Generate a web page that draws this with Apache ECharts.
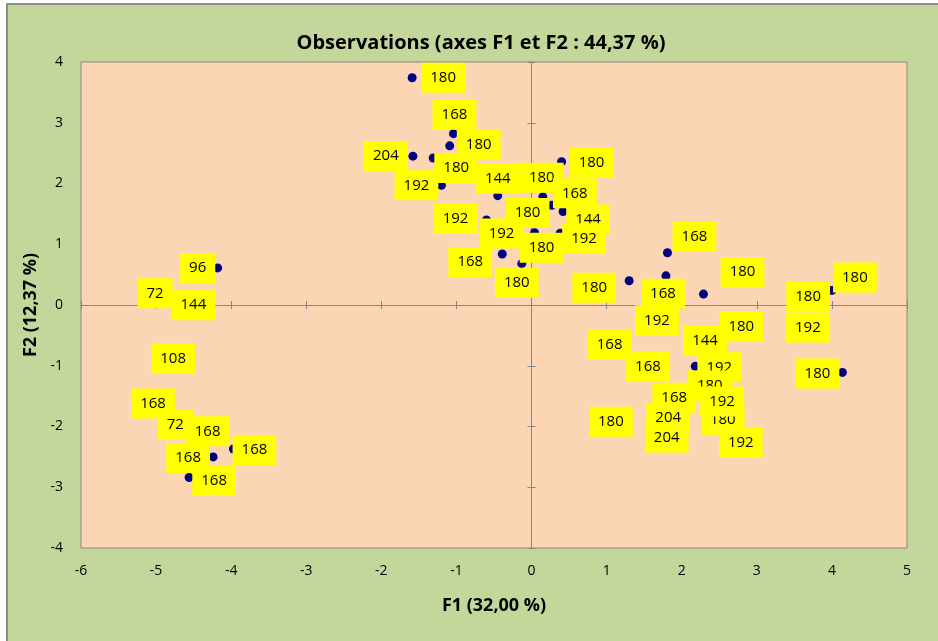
<!DOCTYPE html>
<html><head><meta charset="utf-8">
<script src="https://cdn.jsdelivr.net/npm/echarts@6/dist/echarts.min.js"></script>
<style>
html,body{margin:0;padding:0;background:#fff;overflow:hidden;width:938px;height:641px;}
#frame{position:absolute;left:6px;top:3px;width:960px;height:680px;background:#c4d79b;border:2px solid #8c8c8c;}
#chart{position:absolute;left:0;top:0;width:938px;height:641px;}
</style></head><body>
<div id="frame"></div>
<div id="chart"></div>
<script>
// ---- data ----
const f1 = [-1.59,-1.04,-1.09,-1.58,-1.31,-1.20,-0.45,0.15,0.40,0.27,0.42,0.38,-0.60,-0.24,-0.56,0.04,-0.39,-0.13,
  1.30,1.81,1.79,2.29,4.00,3.51,3.52,4.14,0.88,1.51,2.62,2.15,1.39,2.18,2.24,1.74,1.66,2.40,2.39,1.64,0.91,2.64,
  -4.18,-5.16,-4.65,-4.92,-5.20,-4.89,-4.46,-4.24,-4.56,-3.97];
const f2 = [3.74,2.82,2.62,2.45,2.42,1.97,1.80,1.78,2.36,1.64,1.54,1.18,1.40,1.48,1.16,1.19,0.84,0.68,
  0.40,0.86,0.48,0.18,0.24,0.12,-0.42,-1.11,-0.65,-0.22,-0.35,-0.62,-1.01,-1.01,-1.34,-1.51,-1.84,-1.89,-1.57,-2.18,-1.92,-2.25,
  0.61,0.16,-0.02,-0.88,-1.62,-1.97,-2.08,-2.50,-2.84,-2.37];
const obsLabels = ['180','168','180','204','180','192','144','180','180','168','144','192','192','180','192','180','168','180',
  '180','168','168','180','180','180','192','180','168','192','180','144','168','192','180','168','204','180','192','204','180','192',
  '96','72','144','108','168','72','168','168','168','168'];
const xRange = {min:-6, max:5, step:1};
const yRange = {min:-4, max:4, step:1};
const titleText = 'Observations (axes F1 et F2 : 44,37 %)';
const xName = 'F1 (32,00 %)';
const yName = 'F2 (12,37 %)';

// ---- styling: label nudges (px) from point centre to label centre ----
const LABEL_NUDGE = [[31,0],[1,-19],[29,-1],[-27,0],[23,10],[-25,0],[0,-17],[-1,-19],[30,1],[23,-12],[25,8],[24,5],[-31,-1],[14,-2],[12,-1],[7,15],[-32,8],[-5,19],
  [-35,7],[27,-16],[-3,18],[39,-22],[23,-13],[13,-1],[12,-3],[-25,1],[12,0],[12,2],[13,0],[12,-2],[12,0],[24,1],[10,-1],[12,1],[12,1],[11,0],[11,1],[12,0],[11,0],[11,1],
  [-20,0],[11,-2],[11,-1],[11,0],[12,0],[11,0],[11,0],[-25,1],[25,3],[21,1]];

const FONT = 'Open Sans';
const GRID = {left:81, top:62, width:826, height:486};
const AX = '#868686';

const chart = echarts.init(document.getElementById('chart'), null, {renderer:'canvas'});
function valAxis(extra, r){
  return Object.assign({type:'value', min:r.min, max:r.max, interval:r.step, splitLine:{show:false}}, extra);
}
const option = {
  animation:false,
  textStyle:{fontFamily:FONT},
  title:{text:titleText, left:476, top:28, textAlign:'center',
    textStyle:{fontFamily:FONT, fontSize:20, fontWeight:'bold', color:'#000'}},
  grid:[
    Object.assign({show:true, backgroundColor:'#fcd5b4', borderColor:AX, borderWidth:1}, GRID),
    Object.assign({}, GRID),
    Object.assign({}, GRID)
  ],
  xAxis:[
    valAxis({gridIndex:0, position:'bottom', axisLine:{show:false, onZero:false}, axisTick:{show:false},
      axisLabel:{color:'#000', fontSize:14, margin:16, fontFamily:FONT},
      name:xName, nameLocation:'middle', nameGap:49,
      nameTextStyle:{fontWeight:'bold', fontSize:18, color:'#000', fontFamily:FONT}}, xRange),
    valAxis({gridIndex:1, axisLine:{onZero:true, lineStyle:{color:AX, width:1}},
      axisTick:{show:true, length:4, lineStyle:{color:AX}}, axisLabel:{show:false}}, xRange),
    valAxis({gridIndex:2, axisLine:{show:false, onZero:true},
      axisTick:{show:true, inside:true, length:4, lineStyle:{color:AX}}, axisLabel:{show:false}}, xRange)
  ],
  yAxis:[
    valAxis({gridIndex:0, position:'left', axisLine:{show:false, onZero:false}, axisTick:{show:false},
      axisLabel:{color:'#000', fontSize:14, margin:18, fontFamily:FONT},
      name:yName, nameLocation:'middle', nameGap:40, nameRotate:90,
      nameTextStyle:{fontWeight:'bold', fontSize:18, color:'#000', fontFamily:FONT}}, yRange),
    valAxis({gridIndex:1, axisLine:{onZero:true, lineStyle:{color:AX, width:1}},
      axisTick:{show:true, length:4, lineStyle:{color:AX}}, axisLabel:{show:false}}, yRange),
    valAxis({gridIndex:2, axisLine:{show:false, onZero:true},
      axisTick:{show:true, inside:true, length:4, lineStyle:{color:AX}}, axisLabel:{show:false}}, yRange)
  ],
  series:[{
    type:'scatter', xAxisIndex:0, yAxisIndex:0,
    symbol:'circle', symbolSize:9,
    itemStyle:{color:'#000080', opacity:1},
    emphasis:{disabled:true},
    data:f1.map((x,i)=>({value:[x,f2[i]], label:{offset:LABEL_NUDGE[i]}})),
    label:{show:true, position:'inside', formatter:p=>obsLabels[p.dataIndex], opacity:1,
      backgroundColor:'#ffff00', color:'#000', fontFamily:FONT, fontSize:15, lineHeight:18, padding:[6,9]}
  }]
};
chart.setOption(option);
</script>
</body></html>
